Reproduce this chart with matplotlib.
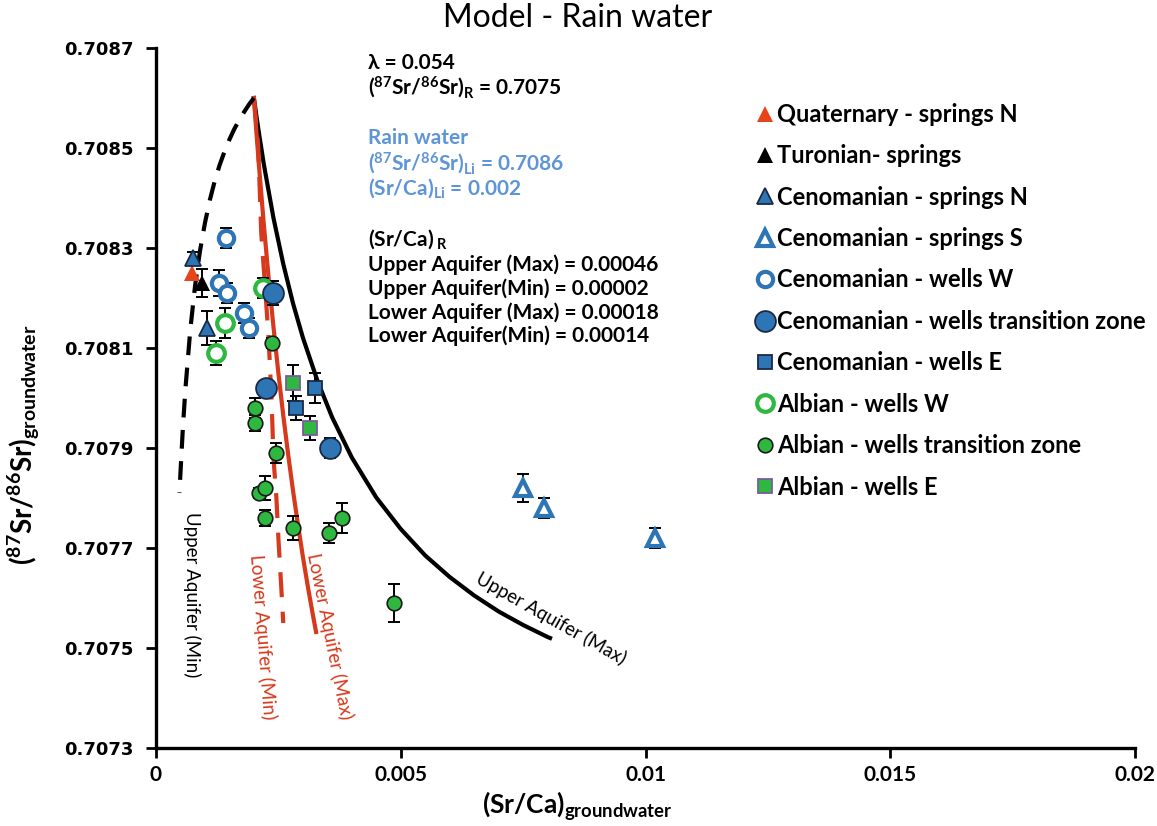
import numpy as np
import matplotlib.pyplot as plt
from matplotlib.lines import Line2D

plt.rcParams['mathtext.fontset'] = 'custom'
plt.rcParams['mathtext.rm'] = 'Lato'
plt.rcParams['mathtext.bf'] = 'Lato:bold'
plt.rcParams['mathtext.it'] = 'Lato:italic'

BOLD = ['Lato', 'DejaVu Sans']

# sample data: (Sr/Ca) and 87Sr/86Sr with 1-sigma error on the ratio
quat_x = [0.00073]
quat_y = [0.70825]

tur_x = [0.00094]
tur_y = [0.70823]
tur_err = [0.000028]

cen_sn_x = [0.00076, 0.00105]
cen_sn_y = [0.70828, 0.70814]
cen_sn_err = [0.000012, 0.000034]

cen_ss_x = [0.00749, 0.00792, 0.01019]
cen_ss_y = [0.70782, 0.70778, 0.70772]
cen_ss_err = [0.000028, 0.00002, 0.00002]

cen_ww_x = [0.00143, 0.00128, 0.00146, 0.00179, 0.00189]
cen_ww_y = [0.70832, 0.70823, 0.70821, 0.70817, 0.70814]
cen_ww_err = [0.00002, 0.000026, 0.00002, 0.00002, 0.00002]

cen_wt_x = [0.00239, 0.00225, 0.00355]
cen_wt_y = [0.70821, 0.70802, 0.70790]
cen_wt_err = [0.000024, 0.00001, 0.00002]

cen_we_x = [0.00324, 0.00285]
cen_we_y = [0.70802, 0.70798]
cen_we_err = [0.00003, 0.000024]

alb_ww_x = [0.00219, 0.00141, 0.00122]
alb_ww_y = [0.70822, 0.70815, 0.70809]
alb_ww_err = [0.00002, 0.00003, 0.000024]

alb_wt_x = [0.00237, 0.00203, 0.00203, 0.00246, 0.00210, 0.00222,
            0.00222, 0.00279, 0.00353, 0.00379, 0.00486]
alb_wt_y = [0.70811, 0.70798, 0.70795, 0.70789, 0.70781, 0.70782,
            0.70776, 0.70774, 0.70773, 0.70776, 0.70759]
alb_wt_err = [0.00001, 0.00002, 0.000016, 0.00002, 0.00001, 0.000024,
              0.000016, 0.000024, 0.00002, 0.00003, 0.000038]

alb_we_x = [0.00279, 0.00314]
alb_we_y = [0.70803, 0.70794]
alb_we_err = [0.000036, 0.000024]

# model curves (rain water -> rock equilibrium)
up_max_x = [0.00200, 0.00205, 0.00210, 0.00220, 0.00240, 0.00260, 0.00280,
            0.00300, 0.00330, 0.00360, 0.00400, 0.00450, 0.00500, 0.00550,
            0.00600, 0.00650, 0.00700, 0.00750, 0.00800, 0.00805]
up_max_y = [0.708600, 0.708565, 0.708532, 0.708469, 0.708360, 0.708268,
            0.708189, 0.708121, 0.708034, 0.707961, 0.707881, 0.707801,
            0.707738, 0.707685, 0.707642, 0.707605, 0.707573, 0.707546,
            0.707522, 0.707520]

low_max_x = [0.00200, 0.00205, 0.00210, 0.00220, 0.00230, 0.00240, 0.00250,
             0.00260, 0.00270, 0.00280, 0.00290, 0.00300, 0.00310, 0.00320,
             0.00327]
low_max_y = [0.708600, 0.708533, 0.708469, 0.708350, 0.708241, 0.708142,
             0.708050, 0.707965, 0.707887, 0.707814, 0.707747, 0.707683,
             0.707624, 0.707569, 0.707532]

low_min_x = [0.00200, 0.00209, 0.00215, 0.00223, 0.00230, 0.00236,
             0.00240, 0.00246, 0.00250, 0.00256, 0.00260]
low_min_y = [0.70860, 0.70850, 0.70833, 0.70822, 0.70812, 0.70800,
             0.70788, 0.70780, 0.70772, 0.70762, 0.70755]

up_min_x = [0.00200, 0.00190, 0.00180, 0.00170, 0.00160, 0.00150, 0.00140,
            0.00130, 0.00120, 0.00110, 0.00100, 0.00090, 0.00080, 0.00070,
            0.00060, 0.00055, 0.00050, 0.00048]
up_min_y = [0.708600, 0.708587, 0.708572, 0.708556, 0.708538, 0.708517,
            0.708493, 0.708466, 0.708434, 0.708396, 0.708350, 0.708295,
            0.708226, 0.708136, 0.708017, 0.707942, 0.707851, 0.707810]

BLUE = '#2e75b6'
GREEN = '#2fb83f'
ORANGE = '#e8441a'
RED = '#d6391b'

fig = plt.figure(figsize=(11.57, 8.26), dpi=100)
W, H = 1157, 826
ax = fig.add_axes([156 / W, 1 - 748 / H, (1135 - 156) / W, 700 / H])

ax.plot(up_max_x, up_max_y, color='black', lw=3, solid_joinstyle='round', zorder=2)
ax.plot(low_max_x, low_max_y, color=RED, lw=3, solid_joinstyle='round', zorder=2)
ax.plot(low_min_x, low_min_y, color=RED, lw=3, dashes=(6, 3.5), zorder=2)
ax.plot(up_min_x, up_min_y, color='black', lw=3, dashes=(4.5, 3), zorder=2)

ebkw = dict(fmt='none', ecolor='black', elinewidth=1.4, capsize=4, capthick=1.4, zorder=2.5)
for xs, ys, es in [(tur_x, tur_y, tur_err), (cen_sn_x, cen_sn_y, cen_sn_err),
                   (cen_ss_x, cen_ss_y, cen_ss_err), (cen_ww_x, cen_ww_y, cen_ww_err),
                   (cen_wt_x, cen_wt_y, cen_wt_err), (cen_we_x, cen_we_y, cen_we_err),
                   (alb_ww_x, alb_ww_y, alb_ww_err), (alb_wt_x, alb_wt_y, alb_wt_err),
                   (alb_we_x, alb_we_y, alb_we_err)]:
    ax.errorbar(xs, ys, yerr=es, **ebkw)

series = [
    (quat_x, quat_y, 'Quaternary - springs N',
     dict(marker='^', ms=11, mfc=ORANGE, mec=ORANGE, mew=0), 3),
    (tur_x, tur_y, 'Turonian- springs',
     dict(marker='^', ms=11, mfc='black', mec='black', mew=0), 3),
    (cen_sn_x, cen_sn_y, 'Cenomanian - springs N',
     dict(marker='^', ms=11, mfc=BLUE, mec='#1a2a44', mew=1.3), 3),
    (cen_ss_x, cen_ss_y, 'Cenomanian - springs S',
     dict(marker='^', ms=11, mfc='white', mec=BLUE, mew=3), 3),
    (cen_ww_x, cen_ww_y, 'Cenomanian - wells W',
     dict(marker='o', ms=11, mfc='white', mec=BLUE, mew=3), 3),
    (cen_wt_x, cen_wt_y, 'Cenomanian - wells transition zone',
     dict(marker='o', ms=15, mfc=BLUE, mec='#1a2a44', mew=1.3), 3.5),
    (cen_we_x, cen_we_y, 'Cenomanian - wells E',
     dict(marker='s', ms=10.5, mfc=BLUE, mec='#1a2a44', mew=1.3), 3),
    (alb_ww_x, alb_ww_y, 'Albian - wells W',
     dict(marker='o', ms=12, mfc='white', mec=GREEN, mew=3), 3),
    (alb_wt_x, alb_wt_y, 'Albian - wells transition zone',
     dict(marker='o', ms=10.5, mfc=GREEN, mec='#1a1a1a', mew=1.2), 3),
    (alb_we_x, alb_we_y, 'Albian - wells E',
     dict(marker='s', ms=10.5, mfc=GREEN, mec='#7a5aa0', mew=1.3), 3),
]
handles = []
for xs, ys, lab, kw, z in series:
    ax.plot(xs, ys, ls='none', zorder=z, **kw)
    handles.append(Line2D([], [], ls='none', label=lab, **kw))

ax.set_xlim(0, 0.02)
ax.set_ylim(0.7073, 0.7087)
ax.set_xticks([0, 0.005, 0.01, 0.015, 0.02])
ax.set_xticklabels(['0', '0.005', '0.01', '0.015', '0.02'])
yt = np.arange(0.7073, 0.70871, 0.0002)
ax.set_yticks(yt)
ax.set_yticklabels(['%.4f' % v for v in yt])
for lab in ax.get_xticklabels():
    lab.set_fontfamily(BOLD)
    lab.set_fontweight('bold')
    lab.set_fontsize(15)
for lab in ax.get_yticklabels():
    lab.set_fontfamily('DejaVu Sans')
    lab.set_fontweight('bold')
    lab.set_fontsize(13)
ax.tick_params(axis='both', direction='out', length=7, width=2, colors='black')
ax.tick_params(axis='x', pad=5)
ax.tick_params(axis='y', pad=9)
for s in ['top', 'right']:
    ax.spines[s].set_visible(False)
for s in ['left', 'bottom']:
    ax.spines[s].set_linewidth(2.4)

ax.legend(handles=handles, loc='upper left', bbox_to_anchor=(745 / W, 1 - 91 / H),
          bbox_transform=fig.transFigure, frameon=False, handlelength=0.7,
          handletextpad=0.15, labelspacing=0.78, borderpad=0,
          prop=dict(family=BOLD, weight='bold', size=17))


def ftext(x, y, s, **kw):
    fig.text(x / W, 1 - y / H, s, **kw)


ftext(578, 18, 'Model - Rain water', ha='center', va='center', fontsize=23, family=BOLD)
ftext(577, 806, r'$\mathbf{(Sr/Ca)_{groundwater}}$', ha='center', va='center',
      fontsize=19, family=BOLD)
ftext(24, 445, r'$\mathbf{(^{87}Sr/^{86}Sr)_{groundwater}}$', ha='center', va='center',
      fontsize=20, rotation=90, family=BOLD)

tk = dict(ha='left', va='center', fontsize=15, fontweight='bold', family=BOLD)
LB = '#5e95d6'
ftext(368, 63, 'λ = 0.054', **tk)
ftext(368, 87, r'$\mathbf{(^{87}Sr/^{86}Sr)_R}$ = 0.7075', **tk)
ftext(368, 138, 'Rain water', color=LB, **tk)
ftext(368, 163, r'$\mathbf{(^{87}Sr/^{86}Sr)_{Li}}$ = 0.7086', color=LB, **tk)
ftext(368, 188, r'$\mathbf{(Sr/Ca)_{Li}}$ = 0.002', color=LB, **tk)
ftext(368, 239, r'(Sr/Ca)$\mathbf{_{\ R}}$', **tk)
ftext(368, 265, 'Upper Aquifer (Max) = 0.00046', **tk)
ftext(368, 289, 'Upper Aquifer(Min) = 0.00002', **tk)
ftext(368, 313, 'Lower Aquifer (Max) = 0.00018', **tk)
ftext(368, 336, 'Lower Aquifer(Min) = 0.00014', **tk)

ck = dict(ha='center', va='center', fontsize=13.5, family=BOLD, rotation_mode='anchor')
ftext(192, 595, 'Upper Aquifer (Min)', rotation=-90, color='black', **ck)
ftext(263, 637, 'Lower Aquifer (Min)', rotation=-85.4, color=RED, **ck)
ftext(330, 636, 'Lower Aquifer (Max)', rotation=-78.5, color=RED, **ck)
ftext(551, 618, 'Upper Aquifer (Max)', rotation=-29.3, color='black', **ck)

fig.savefig('out.png', dpi=100)
